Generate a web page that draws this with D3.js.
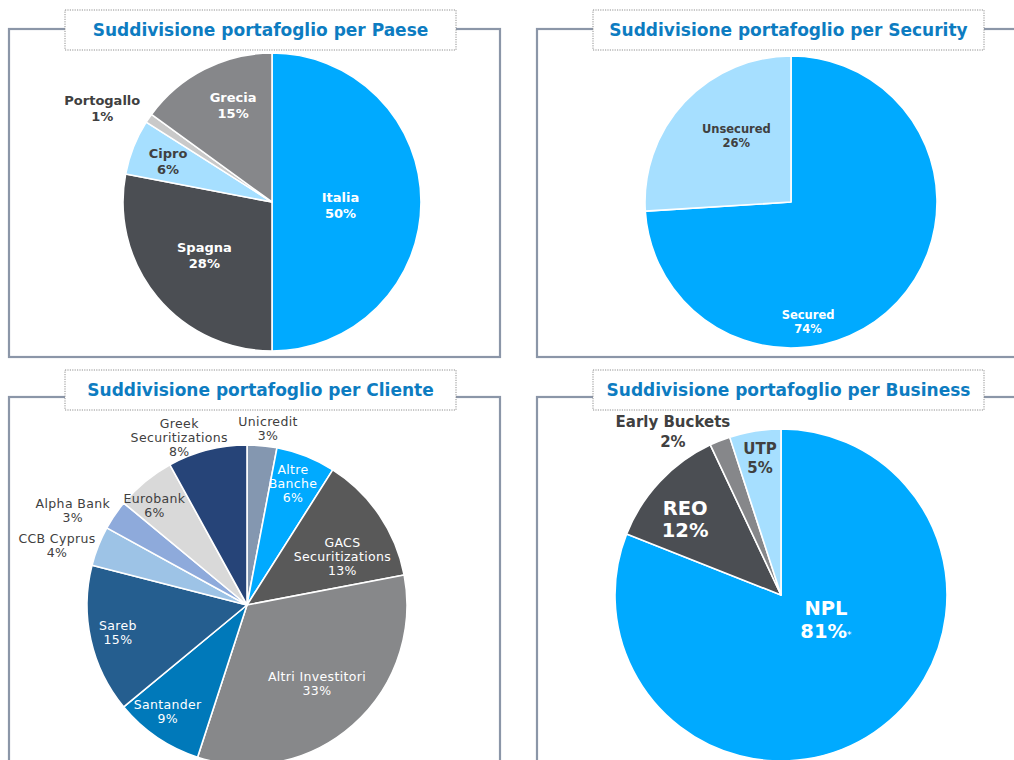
<!DOCTYPE html>
<html><head><meta charset="utf-8">
<script src="https://cdn.jsdelivr.net/npm/d3@7"></script>
<style>body{margin:0;background:#fff}svg{display:block}</style>
</head><body>
<script>
// ---- data ----
const paeseLabels = ["Italia","Spagna","Cipro","Portogallo","Grecia"];
const paeseValues = [50,28,6,1,15];
const securityLabels = ["Secured","Unsecured"];
const securityValues = [74,26];
const clienteLabels = [["Unicredit"],["Altre","Banche"],["GACS","Securitizations"],["Altri Investitori"],["Santander"],["Sareb"],["CCB Cyprus"],["Alpha Bank"],["Eurobank"],["Greek","Securitizations"]];
const clienteValues = [3,6,13,33,9,15,4,3,6,8];
const businessLabels = ["NPL","REO","Early Buckets","UTP"];
const businessValues = [81,12,2,5];
const titles = ["Suddivisione portafoglio per Paese","Suddivisione portafoglio per Security","Suddivisione portafoglio per Cliente","Suddivisione portafoglio per Business"];

// ---- styles / layout ----
const W=1014,H=760;
const svg=d3.select("body").append("svg").attr("width",W).attr("height",H);
const FONT="'DejaVu Sans', Verdana, sans-serif";
const frameColor="#8b96a8", titleColor="#0d7cc1";

const panels=[
 {title:titles[0], frame:[9,29,491,328], tbox:[65,10,391,40], cx:272, cy:202, r:149,
  labels:paeseLabels.map(d=>[d]), values:paeseValues,
  colors:["#00aaff","#4b4e53","#a6dfff","#c9c9c9","#86878a"],
  textColors:["#fff","#fff","#404040","#404040","#fff"],
  font:13, bold:true, lh:16, ls:0,
  lay:[[0.46,2.5],[0.58,1.1],[0.75,0],[1.30,-5.4],[0.70,5.1]]},
 {title:titles[1], frame:[537,29,520,328], tbox:[593,10,391,40], cx:791, cy:202, r:146,
  labels:securityLabels.map(d=>[d]), values:securityValues,
  colors:["#00aaff","#a6dfff"], textColors:["#fff","#404040"],
  font:11.5, bold:true, lh:14, ls:0,
  lay:[[0.83,38.7],[0.59,7.4]]},
 {title:titles[2], frame:[9,397,491,420], tbox:[65,370,391,40], cx:247, cy:605, r:160,
  labels:clienteLabels, values:clienteValues,
  colors:["#8497b0","#00aaff","#595959","#87888a","#0079ba","#255e8f","#9dc3e6","#8eaadb","#d9d9d9","#264478"],
  textColors:["#404040","#fff","#fff","#fff","#fff","#fff","#404040","#404040","#404040","#404040"],
  font:12.5, bold:false, lh:14, ls:0.35,
  lay:[[1.11,1.4],[0.81,-0.8],[0.67,7.1],[0.655,-0.5],[0.83,2.5],[0.825,0.4],[1.245,-4.1],[1.24,-5.6],[0.85,-3.3],[1.13,-7.6]]},
 {title:titles[3], frame:[537,397,520,420], tbox:[593,370,391,40], cx:781, cy:595, r:166,
  labels:businessLabels.map(d=>[d]), values:businessValues,
  colors:["#00aaff","#4b4e53","#86878a","#a6dfff"],
  textColors:["#fff","#fff","#404040","#404040"],
  fonts:[19.5,19.5,15,15], bold:true, lhs:[23,22,20,19], ls:0,
  lay:[[0.307,-27.7],[0.737,-4.8],[1.18,-11.9],[0.835,0.3]]}
];

panels.forEach((p,pi)=>{
  const g=svg.append("g");
  g.append("rect").attr("x",p.frame[0]).attr("y",p.frame[1]).attr("width",p.frame[2]).attr("height",p.frame[3])
   .attr("fill","none").attr("stroke",frameColor).attr("stroke-width",2.2);
  const pie=d3.pie().sort(null).value(d=>d)(p.values);
  const arc=d3.arc().innerRadius(0).outerRadius(p.r);
  const pg=g.append("g").attr("transform",`translate(${p.cx},${p.cy})`);
  pg.selectAll("path").data(pie).join("path").attr("d",arc)
    .attr("fill",(d,i)=>p.colors[i]).attr("stroke","#fff").attr("stroke-width",1.6).attr("stroke-linejoin","round");
  pie.forEach((d,i)=>{
    const [k,da]=p.lay[i];
    const a=(d.startAngle+d.endAngle)/2 + da*Math.PI/180;
    const x=Math.sin(a)*p.r*k, y=-Math.cos(a)*p.r*k;
    const lines=p.labels[i].concat([d.data+"%"]);
    const fs=p.fonts?p.fonts[i]:p.font, lh=p.lhs?p.lhs[i]:p.lh;
    const t=pg.append("text").attr("x",x).attr("y",y)
      .attr("text-anchor","middle").attr("font-family",FONT).attr("font-size",fs)
      .attr("letter-spacing",p.ls)
      .attr("font-weight",p.bold?"bold":"normal").attr("fill",p.textColors[i]);
    lines.forEach((ln,j)=>{
      t.append("tspan").attr("x",x).attr("y",y+(j-(lines.length-1)/2)*lh).attr("dy","0.36em").text(ln);
    });
    if(pi===3 && i===0){
      t.append("tspan").attr("font-size",9).attr("font-weight","normal").attr("dy","0.1em").text("*");
    }
  });
  g.append("rect").attr("x",p.tbox[0]).attr("y",p.tbox[1]).attr("width",p.tbox[2]).attr("height",p.tbox[3])
   .attr("fill","#fff").attr("stroke","#8f8f8f").attr("stroke-width",1).attr("stroke-dasharray","1.2,1.2");
  g.append("text").attr("x",p.tbox[0]+p.tbox[2]/2).attr("y",p.tbox[1]+p.tbox[3]/2).attr("dy","0.36em")
   .attr("text-anchor","middle").attr("font-family",FONT).attr("font-size",17).attr("font-weight","bold")
   .attr("fill",titleColor).text(p.title);
});
</script>
</body></html>
